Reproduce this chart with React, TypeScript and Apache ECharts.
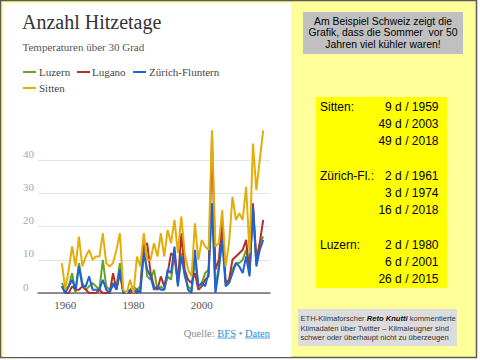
import React, { useEffect, useRef } from "react";
import * as echarts from "echarts";

const years = [
  1959, 1960, 1961, 1962, 1963, 1964, 1965, 1966, 1967, 1968,
  1969, 1970, 1971, 1972, 1973, 1974, 1975, 1976, 1977, 1978,
  1979, 1980, 1981, 1982, 1983, 1984, 1985, 1986, 1987, 1988,
  1989, 1990, 1991, 1992, 1993, 1994, 1995, 1996, 1997, 1998,
  1999, 2000, 2001, 2002, 2003, 2004, 2005, 2006, 2007, 2008,
  2009, 2010, 2011, 2012, 2013, 2014, 2015, 2016, 2017, 2018,
];

const luzern = [
  3, 1, 2, 6, 0, 9, 3, 1, 2, 3,
  2, 1, 10, 2, 1, 2, 2, 9, 0, 0,
  1, 2, 1, 2, 15, 5, 4, 7, 1, 2,
  1, 5, 4, 12, 3, 12, 5, 2, 1, 10,
  2, 3, 6, 7, 27, 2, 8, 18, 3, 3,
  7, 9, 9, 10, 13, 7, 26, 9, 15, 17,
];

const lugano = [
  2, 0, 0, 2, 1, 1, 2, 1, 0, 0,
  0, 1, 0, 0, 0, 6, 1, 6, 0, 0,
  0, 1, 0, 1, 14, 15, 6, 2, 1, 5,
  2, 6, 12, 11, 3, 18, 7, 4, 3, 6,
  1, 2, 4, 5, 47, 7, 10, 22, 3, 4,
  10, 11, 12, 13, 16, 6, 27, 10, 15, 22,
];

const zurich = [
  2, 0, 2, 4, 1, 8, 2, 2, 5, 1,
  1, 1, 4, 1, 0, 3, 1, 7, 0, 0,
  1, 0, 1, 0, 12, 7, 5, 1, 2, 1,
  1, 7, 6, 14, 2, 11, 6, 1, 0, 13,
  2, 3, 2, 6, 27, 0, 7, 16, 2, 3,
  6, 9, 8, 6, 11, 5, 26, 8, 13, 16,
];

const sitten = [
  9, 1, 7, 14, 8, 17, 8, 11, 13, 10,
  11, 11, 18, 9, 8, 9, 13, 18, 1, 0,
  4, 0, 11, 8, 18, 10, 10, 15, 11, 18,
  11, 19, 15, 22, 12, 23, 12, 7, 5, 21,
  10, 16, 14, 13, 49, 14, 15, 25, 8, 15,
  29, 22, 24, 22, 32, 12, 45, 31, 40, 49,
];

const xTickLabels = [1960, 1980, 2000];

const seriesNames = ["Luzern", "Lugano", "Zürich-Fluntern", "Sitten"];
const seriesColors = ["#62A623", "#B3302C", "#1F62D6", "#E3AE0A"];

const introLines = [
  "Am Beispiel Schweiz zeigt die",
  "Grafik, dass die Sommer  vor 50",
  "Jahren viel kühler waren!",
];

// [label, value] rows of the yellow box ("" = empty)
const factRows: [string, string][] = [
  ["Sitten:", "9 d / 1959"],
  ["", "49 d / 2003"],
  ["", "49 d / 2018"],
  ["", ""],
  ["Zürich-Fl.:", "2 d / 1961"],
  ["", "3 d / 1974"],
  ["", "16 d / 2018"],
  ["", ""],
  ["Luzern:", "2 d / 1980"],
  ["", "6 d / 2001"],
  ["", "26 d / 2015"],
];

const noteLines = [
  "{n|ETH-Klimaforscher }{b|Reto Knutti}{n| kommentierte}",
  "{n|Klimadaten über Twitter – Klimaleugner sind}",
  "{n|schwer oder überhaupt nicht zu überzeugen}",
];

// source line pieces: [text, isLink]
const sourceParts: [string, boolean][] = [
  ["Quelle: ", false],
  ["BFS", true],
  [" • ", false],
  ["Daten", true],
];

const SERIF = "'Liberation Serif', 'DejaVu Serif', serif";
const SANS = "'Liberation Sans', Arial, sans-serif";

export default function App() {
  const ref = useRef<HTMLDivElement>(null);

  useEffect(() => {
    if (!ref.current) return;
    const chart = echarts.init(ref.current, null, { renderer: "svg" });

    const dataOf = (arr: number[]) => years.map((y, i) => [y, arr[i]]);
    const lineSeries = [3, 0, 1, 2].map((idx) => ({
      name: seriesNames[idx],
      type: "line",
      data: dataOf([luzern, lugano, zurich, sitten][idx]),
      showSymbol: false,
      symbol: "none",
      lineStyle: { color: seriesColors[idx], width: 2 },
      itemStyle: { color: seriesColors[idx] },
      z: 2 + idx,
    }));

    const graphics: any[] = [];
    // backgrounds
    graphics.push({
      type: "rect",
      z: -20,
      shape: { x: 0, y: 0, width: 480, height: 360 },
      style: { fill: "#FFFFFF" },
    });
    graphics.push({
      type: "rect",
      z: -19,
      shape: { x: 0.5, y: 0.5, width: 476, height: 357 },
      style: { fill: "#FFFF99", stroke: "#5a5a5a", lineWidth: 1.5 },
    });
    graphics.push({
      type: "rect",
      z: -18,
      shape: { x: 3, y: 3, width: 288, height: 354 },
      style: { fill: "#FFFFFF" },
    });

    // title + subtitle
    graphics.push({
      type: "text",
      x: 22,
      y: 22,
      style: {
        text: "Anzahl Hitzetage",
        fill: "#333333",
        fontSize: 20,
        fontFamily: SERIF,
        textAlign: "left",
        textVerticalAlign: "middle",
      },
    });
    graphics.push({
      type: "text",
      x: 22.5,
      y: 47,
      style: {
        text: "Temperaturen über 30 Grad",
        fill: "#555555",
        fontSize: 11,
        fontFamily: SERIF,
        textAlign: "left",
        textVerticalAlign: "middle",
      },
    });

    // legend
    const legendPos = [
      { lx: 23, ly: 72, tx: 39 },
      { lx: 77, ly: 72, tx: 92 },
      { lx: 133, ly: 72, tx: 149 },
      { lx: 23, ly: 88, tx: 39 },
    ];
    seriesNames.forEach((name, i) => {
      const p = legendPos[i];
      graphics.push({
        type: "line",
        shape: { x1: p.lx, y1: p.ly, x2: p.lx + 13, y2: p.ly },
        style: { stroke: seriesColors[i], lineWidth: 2 },
      });
      graphics.push({
        type: "text",
        x: p.tx,
        y: p.ly,
        style: {
          text: name,
          fill: "#444444",
          fontSize: 11,
          fontFamily: SERIF,
          textAlign: "left",
          textVerticalAlign: "middle",
        },
      });
    });

    // source (right-aligned at x=270, measured with canvas)
    const srcY = 333;
    const srcFont = "10.5px 'Liberation Serif', serif";
    const ctx = document.createElement("canvas").getContext("2d");
    const measure = (t: string) => {
      if (!ctx) return t.length * 5;
      ctx.font = srcFont;
      return ctx.measureText(t).width;
    };
    const widths = sourceParts.map(([t]) => measure(t));
    const total = widths.reduce((a, b) => a + b, 0);
    let cx = 270 - total;
    sourceParts.forEach(([t, link], i) => {
      graphics.push({
        type: "text",
        x: cx,
        y: srcY,
        style: {
          text: t,
          fill: link ? "#2A8ED6" : "#8a8a8a",
          fontSize: 10.5,
          fontFamily: SERIF,
          textAlign: "left",
          textVerticalAlign: "middle",
        },
      });
      if (link) {
        graphics.push({
          type: "line",
          shape: { x1: cx, y1: srcY + 5, x2: cx + widths[i], y2: srcY + 5 },
          style: { stroke: "#2A8ED6", lineWidth: 0.8 },
        });
      }
      cx += widths[i];
    });

    // right panel: intro box
    graphics.push({
      type: "rect",
      shape: { x: 303, y: 12, width: 160, height: 42 },
      style: { fill: "#C0C0C0" },
    });
    introLines.forEach((t, i) => {
      graphics.push({
        type: "text",
        x: 383,
        y: 21 + i * 11.6,
        style: {
          text: t,
          fill: "#000000",
          fontSize: 10.4,
          fontFamily: SANS,
          textAlign: "center",
          textVerticalAlign: "middle",
        },
      });
    });

    // yellow facts box
    graphics.push({
      type: "rect",
      shape: { x: 316, y: 97, width: 131, height: 191 },
      style: { fill: "#FFFF00" },
    });
    factRows.forEach(([label, value], i) => {
      const y = 106.5 + i * 17.25;
      if (label) {
        graphics.push({
          type: "text",
          x: 320,
          y,
          style: {
            text: label,
            fill: "#000000",
            fontSize: 12,
            fontFamily: SANS,
            textAlign: "left",
            textVerticalAlign: "middle",
          },
        });
      }
      if (value) {
        graphics.push({
          type: "text",
          x: 438.5,
          y,
          style: {
            text: value,
            fill: "#000000",
            fontSize: 12,
            fontFamily: SANS,
            textAlign: "right",
            textVerticalAlign: "middle",
          },
        });
      }
    });

    // note box
    graphics.push({
      type: "rect",
      shape: { x: 298, y: 309, width: 159, height: 37 },
      style: { fill: "#DCDCDC" },
    });
    noteLines.forEach((t, i) => {
      graphics.push({
        type: "text",
        x: 300.5,
        y: 318.5 + i * 9.5,
        style: {
          text: t,
          fill: "#333333",
          fontSize: 7.6,
          fontFamily: SANS,
          textAlign: "left",
          textVerticalAlign: "middle",
          rich: {
            n: { fontSize: 7.6, fontFamily: SANS, fill: "#333333", color: "#333333" },
            b: {
              fontSize: 7.6,
              fontFamily: SANS,
              fontWeight: "bold",
              fontStyle: "italic",
              fill: "#111111",
              color: "#111111",
            },
          },
        },
      });
    });

    const option: any = {
      animation: false,
      grid: { left: 38, right: 210, top: 127, bottom: 67, containLabel: false },
      xAxis: {
        type: "value",
        min: 1952,
        max: 2020,
        axisLine: { show: true, lineStyle: { color: "#6b6b6b", width: 1.5 } },
        axisTick: { show: false },
        splitLine: { show: false },
        axisLabel: {
          customValues: xTickLabels,
          color: "#555555",
          fontSize: 11,
          fontFamily: SERIF,
          margin: 6,
          formatter: (v: number) => String(v),
        },
      },
      yAxis: {
        type: "value",
        min: 0,
        max: 50,
        interval: 10,
        axisLine: { show: false },
        axisTick: { show: false },
        splitLine: {
          show: true,
          lineStyle: {
            color: ["#e4e4e4", "#e4e4e4", "#e4e4e4", "#e4e4e4", "#e4e4e4", "rgba(0,0,0,0)"],
            width: 1,
          },
        },
        axisLabel: {
          showMaxLabel: false,
          color: "#a8a8a8",
          fontSize: 11,
          fontFamily: SERIF,
          align: "left",
          verticalAlign: "bottom",
          margin: 15,
          padding: [0, 0, 1, 0],
        },
      },
      graphic: { elements: graphics },
      series: lineSeries,
    };

    chart.setOption(option);
    return () => chart.dispose();
  }, []);

  return (
    <div
      ref={ref}
      style={{ position: "absolute", left: 0, top: 0, width: 480, height: 360 }}
    />
  );
}
